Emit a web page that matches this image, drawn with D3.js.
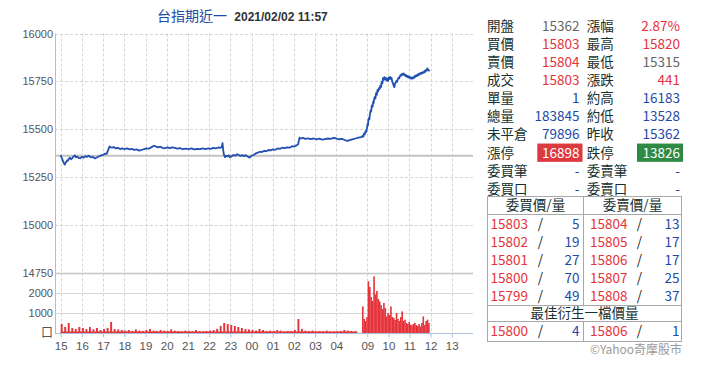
<!DOCTYPE html>
<html>
<head>
<meta charset="utf-8">
<script src="https://cdn.jsdelivr.net/npm/d3@7"></script>
<style>
  html, body { margin: 0; padding: 0; background: #fff; }
  svg { display: block; }
</style>
</head>
<body>
<svg id="chart" width="718" height="380"></svg>
<script>
// ---------------- DATA ----------------
const titleName = "台指期近一";
const titleTime = "2021/02/02 11:57";
const refPrice = 15362;

const priceTicks = [16000, 15750, 15500, 15250, 15000, 14750];
const volTicks = [0, 1000, 2000];
const volTickLabels = ["口", "1000", "2000"];
const nightTickLabels = ["15","16","17","18","19","20","21","22","23","00","01","02","03","04"];
const dayTickLabels = ["09","10","11","12","13"];

// night session (15:00 -> 05:00)
const nightTimes = ["15:00","15:02","15:04","15:06","15:08","15:10","15:12","15:14","15:16","15:18","15:20","15:23",
  "15:26","15:29","15:32","15:36","15:40","15:43","15:47","15:51","15:55","16:00","16:05","16:10","16:14","16:19",
  "16:25","16:31","16:37","16:42","16:48","16:54","17:00","17:05","17:10","17:14","17:18","17:22","17:26","17:30",
  "17:36","17:42","17:48","17:54","18:00","18:08","18:15","18:21","18:28","18:35","18:42","18:49","18:56","19:03",
  "19:10","19:17","19:24","19:30","19:36","19:42","19:48","19:55","20:02","20:09","20:16","20:23","20:30","20:38",
  "20:46","20:54","21:02","21:10","21:18","21:26","21:34","21:42","21:50","21:58","22:05","22:12","22:19","22:26",
  "22:32","22:36","22:38","22:40","22:42","22:45","22:48","22:52","22:56","22:59","23:04","23:09","23:14","23:19",
  "23:24","23:29","23:34","23:39","23:44","23:50","23:55","00:00","00:06","00:12","00:18","00:24","00:30","00:36",
  "00:42","00:48","00:54","01:00","01:07","01:14","01:20","01:27","01:34","01:41","01:48","01:55","02:01","02:07",
  "02:12","02:14","02:16","02:20","02:26","02:32","02:40","02:48","02:56","03:04","03:12","03:20","03:28","03:36",
  "03:44","03:52","04:00","04:08","04:16","04:24","04:32","04:40","04:48","04:54","05:00"];
const nightPrices = [15366,15355,15348,15335,15328,15320,15316,15326,15330,15338,15335,15346,
  15352,15344,15348,15358,15364,15354,15358,15350,15349,15356,15352,15360,15356,15362,
  15354,15356,15348,15353,15358,15364,15366,15373,15372,15390,15410,15406,15404,15408,
  15400,15403,15397,15400,15396,15400,15395,15398,15393,15395,15389,15392,15397,15401,
  15399,15407,15414,15410,15406,15409,15403,15401,15406,15402,15406,15403,15399,15402,
  15396,15399,15396,15400,15395,15398,15396,15400,15397,15401,15398,15403,15400,15405,
  15403,15409,15428,15390,15368,15355,15362,15358,15364,15354,15360,15366,15362,15370,
  15366,15361,15365,15360,15365,15357,15352,15362,15366,15374,15378,15383,15381,15388,
  15385,15392,15390,15395,15393,15400,15398,15404,15402,15406,15404,15412,15410,15416,
  15422,15440,15456,15452,15455,15450,15453,15449,15452,15448,15451,15446,15449,15452,
  15450,15455,15452,15448,15450,15444,15440,15445,15449,15452,15455];

// day session (08:45 -> 11:57)
const dayTimes = ["08:45","08:47","08:49","08:51","08:53","08:55","08:57","08:59","09:01","09:02","09:03","09:05",
  "09:06","09:08","09:10","09:11","09:13","09:15","09:17","09:18","09:20","09:22","09:23","09:25","09:27","09:29",
  "09:31","09:33","09:35","09:37","09:39","09:41","09:43","09:45","09:47","09:49","09:51","09:53","09:55","09:57",
  "09:59","10:01","10:03","10:05","10:07","10:09","10:11","10:13","10:15","10:17","10:19","10:21","10:23","10:25",
  "10:27","10:29","10:31","10:33","10:35","10:37","10:39","10:41","10:43","10:45","10:47","10:49","10:51","10:53",
  "10:55","10:57","10:59","11:01","11:03","11:05","11:07","11:09","11:11","11:13","11:15","11:17","11:19","11:21",
  "11:23","11:25","11:27","11:29","11:31","11:33","11:35","11:37","11:39","11:41","11:43","11:45","11:47","11:49",
  "11:51","11:53","11:55","11:57"];
const dayPrices = [15460,15466,15462,15478,15474,15490,15486,15505,15528,15520,15549,15560,
  15552,15585,15600,15592,15625,15618,15645,15636,15662,15670,15660,15688,15680,15705,
  15698,15715,15710,15728,15720,15748,15740,15768,15758,15772,15760,15768,15755,15765,
  15752,15770,15762,15774,15764,15768,15750,15740,15728,15720,15738,15745,15752,15748,
  15762,15770,15766,15778,15784,15780,15790,15786,15792,15782,15786,15778,15782,15774,
  15779,15770,15775,15768,15772,15764,15770,15765,15772,15768,15778,15774,15782,15778,
  15786,15782,15790,15786,15794,15790,15796,15792,15799,15796,15804,15800,15810,15806,
  15818,15812,15808,15803];

// volume: night in 10-minute bins from 15:00, day in 4-minute bins from 08:45
const nightVolStart = "15:00";
const nightVolStepMin = 10;
const nightVol = [450,300,500,250,200,300, 250,200,300,180,250,150, 200,250,550,200,180,150,
  120,150,100,180,120,100, 150,200,120,100,150,120, 100,180,120,100,80,120,
  100,80,150,90,80,100, 120,150,200,350,500,450, 400,350,300,250,200,180,
  150,120,200,150,100,120, 100,150,120,80,100,90, 150,700,200,120,100,120,
  80,100,90,120,80,70, 80,100,150,120,100,80];
const dayVolStart = "08:45";
const dayVolStepMin = 4;
const dayVol = [1330,700,600,800,2580,2300,1800,1600,2830,1930,2100,1700,1580,1400,1200,1500,1250,830,
  1000,900,1330,800,750,650,1000,700,600,800,1080,600,670,500,450,550,420,380,450,500,400,350,450,330,
  500,830,400,600,670,500];

// quote table
const statLabelsL = ["開盤","買價","賣價","成交","單量","總量","未平倉","漲停","委買筆","委買口"];
const statValuesL = ["15362","15803","15804","15803","1","183845","79896","16898","-","-"];
const statLabelsR = ["漲幅","最高","最低","漲跌","約高","約低","昨收","跌停","委賣筆","委賣口"];
const statValuesR = ["2.87%","15820","15315","441","16183","13528","15362","13826","-","-"];
// style keys (kept separate from values)
const statKindL = ["flat","up","up","up","info","info","info","limitUp","info","info"];
const statKindR = ["up","up","flat","up","info","info","info","limitDown","info","info"];

const bidPrices = [15803,15802,15801,15800,15799];
const bidQty = [5,19,27,70,49];
const askPrices = [15804,15805,15806,15807,15808];
const askQty = [13,17,17,25,37];
const bookHeaders = ["委買價/量","委賣價/量"];
const bestHeader = "最佳衍生一檔價量";
const bestBid = [15800, 4];
const bestAsk = [15806, 1];
const credit = "©Yahoo奇摩股市";

// ---------------- DRAW ----------------
const svg = d3.select("#chart");
const C = {
  blue: "#1e4aa8", red: "#e5333b", gray: "#666", label: "#15302f",
  grid: "#d6d6d6", axis: "#a9c1da", line: "#2250b0"
};
const cjk = "'Noto Sans CJK TC', 'Noto Sans', sans-serif";
const sans = "'Liberation Sans', Arial, sans-serif";

const plotL = 55, plotR = 473, plotT = 33.5;
const yP = d3.scaleLinear().domain([14750, 16000]).range([273, 33.5]);
const yV = d3.scaleLinear().domain([0, 3000]).range([333, 273]);
const xNight = d3.scaleLinear().domain([0, 14]).range([60.7, 357.5]);
const xDay = d3.scaleLinear().domain([8.75, 13.75]).range([362, 467.5]);

function hrs(t) { const [h, m] = t.split(":").map(Number); return h + m / 60; }
function nightH(t) { const h = hrs(t); return h >= 15 ? h - 15 : h + 9; }
function xN(t) { return xNight(nightH(t)); }
function xD(t) { return xDay(hrs(t)); }

// title
const title = svg.append("text").attr("x", 157).attr("y", 21);
title.append("tspan").text(titleName).attr("font-family", cjk).attr("font-size", 14).attr("fill", C.blue);
title.append("tspan").text(" " + titleTime).attr("dx", 4).attr("font-family", sans).attr("font-weight", "bold")
  .attr("font-size", 12).attr("fill", "#333");

// grid: horizontal price
const g = svg.append("g");
priceTicks.forEach(v => {
  const y = Math.round(yP(v)) + 0.5;
  g.append("line").attr("x1", plotL).attr("x2", plotR).attr("y1", y).attr("y2", y)
    .attr("stroke", v === 14750 ? "#c4c4c4" : C.grid)
    .attr("stroke-width", v === 14750 ? 1.5 : 1)
    .attr("stroke-dasharray", v === 14750 ? null : "3,2");
});
volTicks.filter(v => v > 0).forEach(v => {
  const y = Math.round(yV(v)) + 0.5;
  g.append("line").attr("x1", plotL).attr("x2", plotR).attr("y1", y).attr("y2", y)
    .attr("stroke", C.grid).attr("stroke-width", 1);
});
// vertical grid
const nightTickPos = nightTickLabels.map((_, i) => xNight(i));
const dayTickPos = dayTickLabels.map(l => xDay(+l));
nightTickPos.concat(dayTickPos).forEach(x => {
  const xx = Math.round(x) + 0.5;
  g.append("line").attr("x1", xx).attr("x2", xx).attr("y1", plotT).attr("y2", 333)
    .attr("stroke", C.grid).attr("stroke-dasharray", "3,2");
});

// reference line
svg.append("line").attr("x1", plotL).attr("x2", plotR)
  .attr("y1", yP(refPrice)).attr("y2", yP(refPrice))
  .attr("stroke", "#c2c2c2").attr("stroke-width", 2);

// volume bars
const nStart = nightH(nightVolStart);
const nbw = xNight(nightVolStepMin / 60) - xNight(0);
svg.append("g").selectAll("rect").data(nightVol).join("rect")
  .attr("x", (d, i) => xNight(nStart + i * nightVolStepMin / 60))
  .attr("y", d => yV(d)).attr("width", nbw * 0.55)
  .attr("height", d => yV(0) - yV(d)).attr("fill", C.red);
svg.append("rect").attr("x", xNight(0)).attr("y", yV(0) - 1.5)
  .attr("width", xNight(14) - xNight(0)).attr("height", 1.5).attr("fill", C.red);
const dStart = hrs(dayVolStart);
const dbw = xDay(dStart + dayVolStepMin / 60) - xDay(dStart);
svg.append("g").selectAll("rect").data(dayVol).join("rect")
  .attr("x", (d, i) => xDay(dStart + i * dayVolStepMin / 60))
  .attr("y", d => yV(d)).attr("width", dbw + 0.2)
  .attr("height", d => yV(0) - yV(d)).attr("fill", C.red);

// price line (night + day joined)
const line = d3.line().x(d => d[0]).y(d => yP(d[1]));
const pts = nightTimes.map((t, i) => [xN(t), nightPrices[i]])
  .concat(dayTimes.map((t, i) => [xD(t), dayPrices[i]]));
svg.append("path").datum(pts)
  .attr("d", line).attr("fill", "none").attr("stroke", C.line).attr("stroke-width", 1.8)
  .attr("stroke-linejoin", "round");

// axes lines
svg.append("line").attr("x1", plotL + 0.5).attr("x2", plotL + 0.5).attr("y1", plotT).attr("y2", 333.5)
  .attr("stroke", C.axis);
svg.append("line").attr("x1", plotL).attr("x2", plotR).attr("y1", 333.5).attr("y2", 333.5)
  .attr("stroke", C.axis);

// y axes
const axP = d3.axisLeft(yP).tickValues(priceTicks).tickSize(0).tickPadding(2).tickFormat(d3.format("d"));
const gy = svg.append("g").attr("transform", `translate(${plotL},0)`).call(axP);
const axV = d3.axisLeft(yV).tickValues(volTicks).tickSize(0).tickPadding(2)
  .tickFormat((d, i) => volTickLabels[i]);
const gv = svg.append("g").attr("transform", `translate(${plotL},0)`).call(axV);
[gy, gv].forEach(a => {
  a.select(".domain").remove();
  a.selectAll("text").attr("font-family", sans).attr("font-size", 11).attr("fill", "#555");
});
gv.selectAll("text").filter((d, i) => i === 0).attr("font-family", cjk).attr("font-size", 12);

// x axes
const axN = d3.axisBottom(xNight).tickValues(d3.range(nightTickLabels.length)).tickSize(4).tickPadding(4)
  .tickFormat((d, i) => nightTickLabels[i]);
const axD = d3.axisBottom(xDay).tickValues(dayTickLabels.map(Number)).tickSize(4).tickPadding(4)
  .tickFormat((d, i) => dayTickLabels[i]);
[axN, axD].forEach(ax => {
  const a = svg.append("g").attr("transform", "translate(0,333.5)").call(ax);
  a.select(".domain").remove();
  a.selectAll("line").attr("stroke", C.axis);
  a.selectAll("text").attr("font-family", sans).attr("font-size", 11.5).attr("fill", "#555");
});

// ---------------- quote table ----------------
const kindColor = { flat: C.gray, up: C.red, info: C.blue, limitUp: "#fff", limitDown: "#fff" };
const kindBg = { limitUp: "#dc3a40", limitDown: "#2f8a43" };
const tfs = 13.5;
const rowY = i => 25.7 + 18.15 * i;
const tbl = svg.append("g").attr("font-family", cjk).attr("font-size", tfs);
function statCol(labels, values, kinds, xLab, xValR, bgX0) {
  labels.forEach((lab, i) => {
    const y = rowY(i);
    if (kindBg[kinds[i]]) {
      tbl.append("rect").attr("x", bgX0).attr("y", y - 9.2).attr("width", xValR + 3 - bgX0).attr("height", 18.3)
        .attr("fill", kindBg[kinds[i]]);
    }
    tbl.append("text").attr("x", xLab).attr("y", y).attr("dy", "0.36em").attr("fill", C.label).text(lab);
    tbl.append("text").attr("x", xValR).attr("y", y).attr("dy", "0.36em").attr("text-anchor", "end")
      .attr("fill", kindColor[kinds[i]]).text(values[i]);
  });
}
statCol(statLabelsL, statValuesL, statKindL, 487, 579.5, 537.3);
statCol(statLabelsR, statValuesR, statKindR, 586.7, 680, 637);

// order book
const bx0 = 487.5, bx1 = 681.5, bxm = 583.5;
const by0 = 196.5, byH = 214.5, byB = 305.5, byBH = 321.5, by1 = 341.5;
const book = svg.append("g").attr("font-family", cjk).attr("font-size", tfs);
book.append("rect").attr("x", bx0).attr("y", by0).attr("width", bx1 - bx0).attr("height", by1 - by0)
  .attr("fill", "none").attr("stroke", "#a8a8a8");
[byH, byB, byBH].forEach(y => book.append("line").attr("x1", bx0).attr("x2", bx1).attr("y1", y).attr("y2", y)
  .attr("stroke", "#a8a8a8"));
book.append("line").attr("x1", bxm).attr("x2", bxm).attr("y1", by0).attr("y2", byB).attr("stroke", "#a8a8a8");
book.append("line").attr("x1", bxm).attr("x2", bxm).attr("y1", byBH).attr("y2", by1).attr("stroke", "#a8a8a8");
bookHeaders.forEach((h, i) => {
  book.append("text").attr("x", i === 0 ? (bx0 + bxm) / 2 : (bxm + bx1) / 2).attr("y", (by0 + byH) / 2)
    .attr("dy", "0.36em").attr("text-anchor", "middle").attr("fill", C.label).text(h);
});
function bookRow(y, p, q, xP, xS, xQ) {
  book.append("text").attr("x", xP).attr("y", y).attr("dy", "0.36em").attr("fill", C.red).text(p);
  book.append("text").attr("x", xS).attr("y", y).attr("dy", "0.36em").attr("text-anchor", "middle").attr("fill", "#222").text("/");
  book.append("text").attr("x", xQ).attr("y", y).attr("dy", "0.36em").attr("text-anchor", "end").attr("fill", C.blue).text(q);
}
const bookRowY = i => 224 + 17.95 * i;
bidPrices.forEach((p, i) => bookRow(bookRowY(i), p, bidQty[i], 490.5, 540.5, 579.5));
askPrices.forEach((p, i) => bookRow(bookRowY(i), p, askQty[i], 590, 639.5, 679.5));
book.append("text").attr("x", (bx0 + bx1) / 2).attr("y", (byB + byBH) / 2).attr("dy", "0.36em")
  .attr("text-anchor", "middle").attr("fill", C.label).text(bestHeader);
bookRow((byBH + by1) / 2, bestBid[0], bestBid[1], 490.5, 540.5, 579.5);
bookRow((byBH + by1) / 2, bestAsk[0], bestAsk[1], 590, 639.5, 679.5);
svg.append("text").attr("x", 682).attr("y", 349.5).attr("dy", "0.36em").attr("text-anchor", "end")
  .attr("font-family", cjk).attr("font-size", 12).attr("fill", "#9a9a9a").text(credit);
</script>
</body>
</html>
